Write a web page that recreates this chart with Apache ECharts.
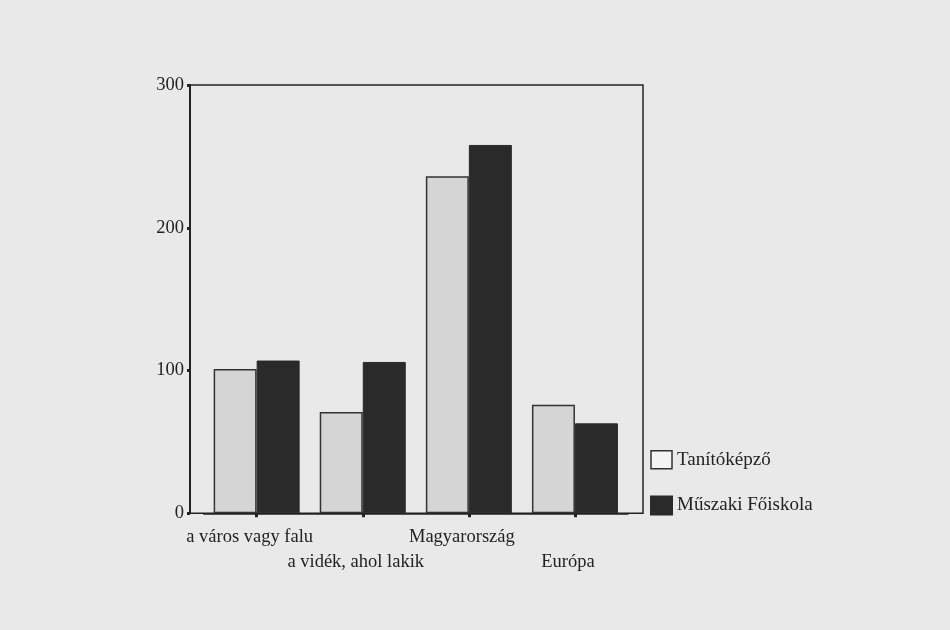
<!DOCTYPE html>
<html>
<head>
<meta charset="utf-8">
<script src="https://cdn.jsdelivr.net/npm/echarts@6/dist/echarts.min.js"></script>
<style>
html,body{margin:0;padding:0;background:#e9e9e9;}
#chart{width:950px;height:630px;}
</style>
</head>
<body>
<div id="chart"></div>
<script>
const categories = ['a város vagy falu', 'a vidék, ahol lakik', 'Magyarország', 'Európa'];
const seriesNames = ['Tanítóképző', 'Műszaki Főiskola'];
const tanitokepzo = [101, 71, 236, 76];
const muszaki = [107, 106, 258, 63];
const yTicks = [0, 100, 200, 300];

const FONT = '"Liberation Serif", "Times New Roman", serif';
const INK = '#222';

const chart = echarts.init(document.getElementById('chart'), null, {renderer: 'canvas'});
chart.setOption({
  animation: false,
  backgroundColor: '#e9e9e9',
  grid: [
    {left: 203.6, width: 424.4, top: 85, height: 428.3, containLabel: false},
    {left: 190, width: 453, top: 85, height: 428.3, show: true, borderColor: INK, borderWidth: 1.5, backgroundColor: 'transparent'}
  ],
  xAxis: [
    {
      gridIndex: 0, type: 'category', data: categories,
      axisLine: {show: true, lineStyle: {color: INK, width: 1.5}},
      axisTick: {show: true, alignWithLabel: true, length: 4, lineStyle: {color: INK, width: 3}},
      axisLabel: {
        interval: 0, margin: 11, fontFamily: FONT, fontSize: 18.5, color: INK, lineHeight: 25,
        padding: [0, 14, 0, 0],
        formatter: function (v, i) { return i % 2 ? '\n' + v : v; }
      },
      splitLine: {show: false}
    },
    {gridIndex: 1, type: 'value', show: false, min: 0, max: 1}
  ],
  yAxis: [
    {gridIndex: 0, type: 'value', min: 0, max: 300, interval: 100, show: false},
    {
      gridIndex: 1, type: 'value', min: yTicks[0], max: yTicks[yTicks.length - 1], interval: 100,
      axisLine: {show: true, lineStyle: {color: INK, width: 2}},
      axisTick: {show: true, length: 3, lineStyle: {color: INK, width: 3}},
      axisLabel: {margin: 6, fontFamily: FONT, fontSize: 18.5, color: INK},
      splitLine: {show: false}
    }
  ],
  legend: {
    orient: 'vertical', left: 650, top: 450, padding: 0,
    itemWidth: 21, itemHeight: 18, itemGap: 26,
    textStyle: {fontFamily: FONT, fontSize: 19, color: INK},
    data: [
      {name: seriesNames[0], icon: 'rect', itemStyle: {color: '#f4f4f4', borderColor: '#333', borderWidth: 1.5}},
      {name: seriesNames[1], icon: 'rect', itemStyle: {color: '#2a2a2a'}}
    ]
  },
  series: [
    {
      name: seriesNames[0], type: 'bar', xAxisIndex: 0, yAxisIndex: 0,
      data: tanitokepzo, barWidth: 43, barGap: '0%',
      itemStyle: {color: '#d5d5d5', borderColor: '#333', borderWidth: 1.5}
    },
    {
      name: seriesNames[1], type: 'bar', xAxisIndex: 0, yAxisIndex: 0,
      data: muszaki, barWidth: 43, barGap: '0%',
      itemStyle: {color: '#2a2a2a', borderColor: '#2a2a2a', borderWidth: 1}
    }
  ]
});
</script>
</body>
</html>
